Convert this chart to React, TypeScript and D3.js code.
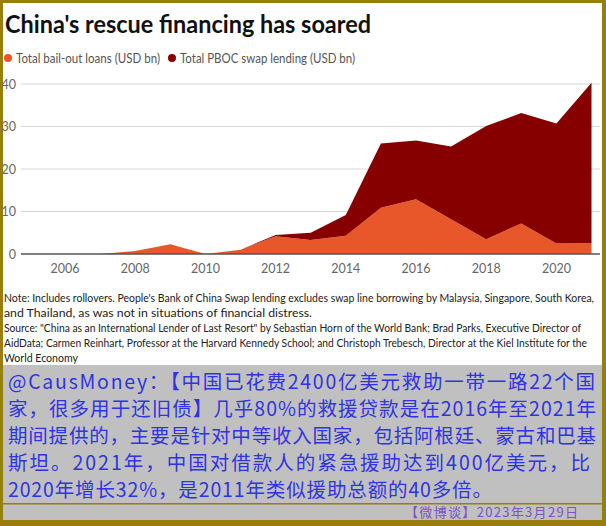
import React from 'react';
import * as d3 from 'd3';

const years = [2006, 2007, 2008, 2009, 2010, 2011, 2012, 2013, 2014, 2015, 2016, 2017, 2018, 2019, 2020, 2021];
const bailout = [0, 0, 0.7, 2.3, 0, 1.0, 4.2, 3.3, 4.3, 10.9, 12.9, 8.2, 3.5, 7.2, 2.5, 2.6];
const swap = [0, 0, 0, 0, 0, 0, 0.3, 1.7, 4.9, 15.1, 13.8, 17.1, 26.6, 26.0, 28.2, 37.7];
const xTicks = [2006, 2008, 2010, 2012, 2014, 2016, 2018, 2020];
const yTicks = [0, 10, 20, 30, 40];
const seriesNames = ['Total bail-out loans (USD bn)', 'Total PBOC swap lending (USD bn)'];
const seriesColors = ['#e8572a', '#870000'];

const title = "China's rescue financing has soared";
const noteLines = [
  "Note: Includes rollovers. People's Bank of China Swap lending excludes swap line borrowing by Malaysia, Singapore, South Korea,",
  'and Thailand, as was not in situations of financial distress.',
  'Source: "China as an International Lender of Last Resort" by Sebastian Horn of the World Bank; Brad Parks, Executive Director of',
  'AidData; Carmen Reinhart, Professor at the Harvard Kennedy School; and Christoph Trebesch, Director at the Kiel Institute for the',
  'World Economy',
];
const noteWidths = [590, 308, 577, 583, 74];
const cnLines = [
  '@CausMoney：【中国已花费2400亿美元救助一带一路22个国',
  '家，很多用于还旧债】几乎80%的救援贷款是在2016年至2021年',
  '期间提供的，主要是针对中等收入国家，包括阿根廷、蒙古和巴基',
  '斯坦。2021年，中国对借款人的紧急援助达到400亿美元，比',
  '2020年增长32%，是2011年类似援助总额的40多倍。',
];
const cnWidths = [587, 588, 588, 582, 484];
const footer = '【微博谈】2023年3月29日';

const W = 606;
const H = 526;
const GOLD = '#9a7d0c';
const LATIN = 'Lato, "Open Sans", sans-serif';

export default function App() {
  const x = d3.scaleLinear().domain([2006, 2021]).range([65, 591.5]);
  const y = d3.scaleLinear().domain([0, 40]).range([254, 84]);
  const data = years.map((yr, i) => ({ year: yr, bailout: bailout[i], swap: swap[i] }));
  const stack = d3.stack<any>().keys(['bailout', 'swap'])(data);
  const area = d3
    .area<any>()
    .x((d) => x(d.data.year))
    .y0((d) => y(d[0]))
    .y1((d) => y(d[1]));

  return (
    <div style={{ position: 'absolute', left: 0, top: 0 }}>
      <svg width={W} height={H} style={{ display: 'block' }}>
        <rect x={0} y={0} width={W} height={H} fill={GOLD} />
        <rect x={3} y={3} width={599} height={362} fill="#ffffff" />
        <rect x={3} y={365} width={599} height={155} fill="#c0c0c0" />
        <rect x={3} y={503} width={599} height={1.5} fill={GOLD} />

        <text x={5} y={33} fontFamily={LATIN} fontWeight={700} fontSize={25} fill="#111" textLength={366} lengthAdjust="spacingAndGlyphs">
          {title}
        </text>

        {seriesNames.map((n, i) => {
          const lx = i === 0 ? 8 : 172;
          const widths = [144, 175];
          return (
            <g key={n}>
              <circle cx={lx} cy={58} r={4} fill={seriesColors[i]} />
              <text x={lx + 8} y={62.5} fontFamily={LATIN} fontSize={13} fill="#555" textLength={widths[i]} lengthAdjust="spacingAndGlyphs">
                {n}
              </text>
            </g>
          );
        })}

        {yTicks.map((t) => (
          <g key={t}>
            {t !== 0 && <line x1={21} x2={600} y1={y(t)} y2={y(t)} stroke="#d8d8d8" strokeWidth={1.2} />}
            <text x={16} y={y(t) + 4.5} textAnchor="end" fontFamily={LATIN} fontSize={12.5} fill="#666">
              {t}
            </text>
          </g>
        ))}

        {stack.map((s, i) => (
          <path key={i} d={area(s) || ''} fill={seriesColors[i]} />
        ))}

        <line x1={21} x2={600} y1={y(0)} y2={y(0)} stroke="#555" strokeWidth={1.5} />

        {xTicks.map((t) => (
          <text key={t} x={x(t)} y={273} textAnchor="middle" fontFamily={LATIN} fontSize={12.5} fill="#666">
            {t}
          </text>
        ))}

        {noteLines.map((l, i) => (
          <text key={i} x={4} y={302 + i * 15} fontFamily={LATIN} fontSize={12} fill="#222" textLength={noteWidths[i]} lengthAdjust="spacingAndGlyphs">
            {l}
          </text>
        ))}

        {cnLines.map((l, i) => (
          <text key={i} x={8} y={389 + i * 27} fontFamily='"Noto Sans CJK SC", sans-serif' fontSize={19.5} fill="#2f34e0" textLength={cnWidths[i]} lengthAdjust="spacing">
            {l}
          </text>
        ))}

        <text x={405} y={517} fontFamily='"Noto Sans CJK SC", sans-serif' fontSize={13} fill="#7b52c8" textLength={173} lengthAdjust="spacing">
          {footer}
        </text>
      </svg>
    </div>
  );
}
